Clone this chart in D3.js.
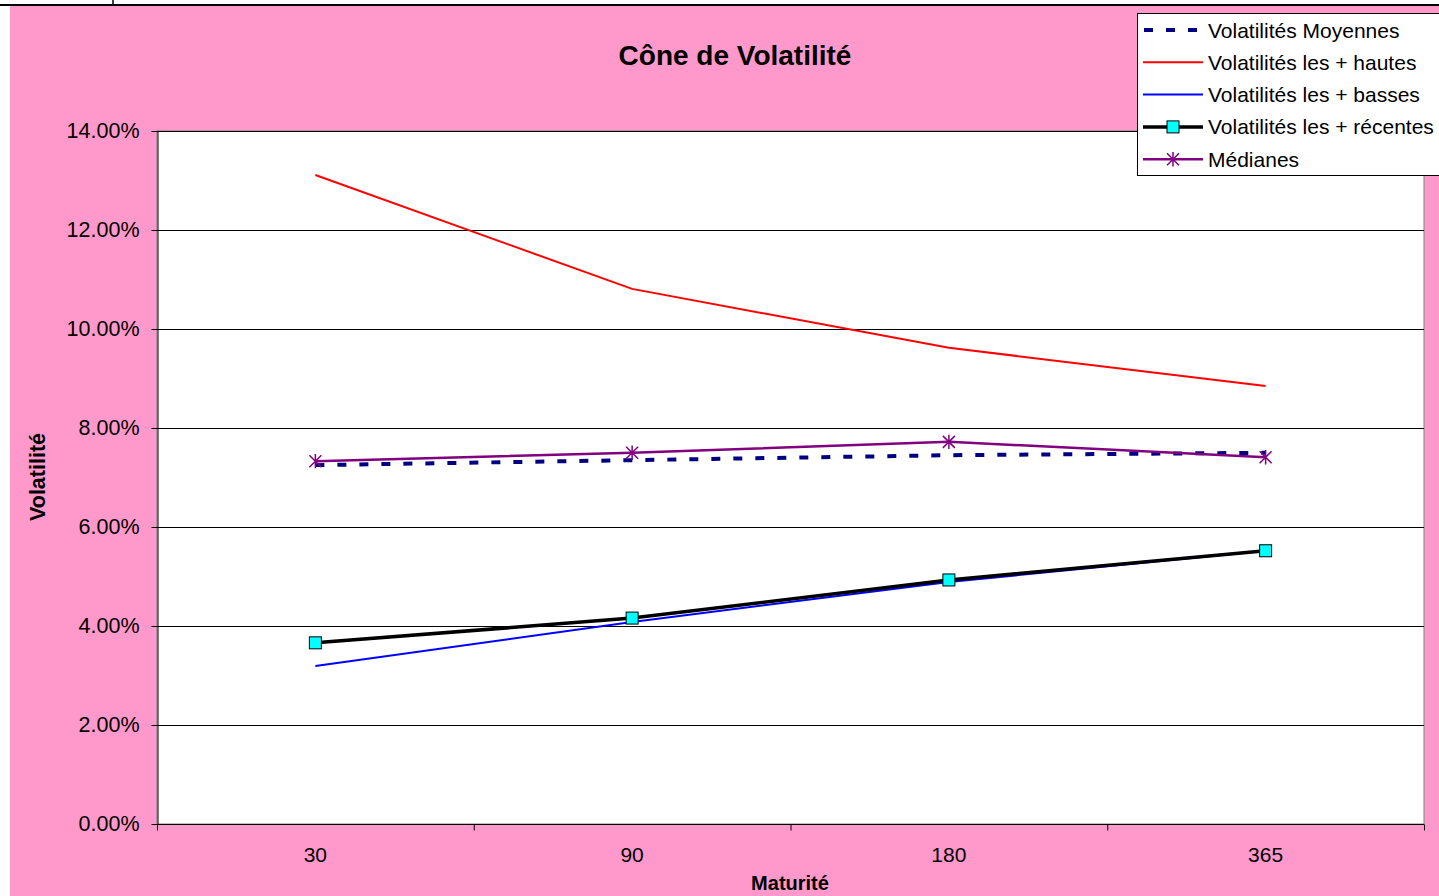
<!DOCTYPE html>
<html>
<head>
<meta charset="utf-8">
<script src="https://cdn.jsdelivr.net/npm/d3@7"></script>
<style>
  html, body { margin: 0; padding: 0; background: #ffffff; }
  svg { display: block; font-family: Arial, "Liberation Sans", sans-serif; }
</style>
</head>
<body>
<svg id="chart" width="1439" height="896"></svg>
<script>
// Maturités (jours) et séries de volatilité
const maturites = ["30", "90", "180", "365"];
const volMoyennes = [0.0725, 0.0735, 0.0745, 0.0750];
const volHautes   = [0.1311, 0.1081, 0.0962, 0.0885];
const volBasses   = [0.0319, 0.0408, 0.0489, 0.0552];
const volRecentes = [0.0366, 0.0416, 0.0493, 0.0552];
const medianes    = [0.0733, 0.0750, 0.0772, 0.0741];
const yTicks = [0, 0.02, 0.04, 0.06, 0.08, 0.10, 0.12, 0.14];

const svg = d3.select("#chart");
const W = 1439, H = 896;

// Fond de la feuille et zone du graphique
svg.append("rect").attr("width", W).attr("height", H).attr("fill", "#ffffff");
svg.append("rect").attr("x", 10).attr("y", 6).attr("width", W - 10).attr("height", H - 6).attr("fill", "#FF99CC");
svg.append("line").attr("x1", 0).attr("x2", W).attr("y1", 5).attr("y2", 5)
  .attr("stroke", "#000").attr("stroke-width", 2);
svg.append("line").attr("x1", 113).attr("x2", 113).attr("y1", 0).attr("y2", 5)
  .attr("stroke", "#000").attr("stroke-width", 1.5);

const plot = { left: 157, right: 1424, top: 131, bottom: 824 };

const x = d3.scaleBand().domain(maturites).range([plot.left, plot.right]).padding(0);
const y = d3.scaleLinear().domain([0, 0.14]).range([plot.bottom, plot.top]);
const cx = d => x(d) + x.bandwidth() / 2;

// Zone de traçage
svg.append("rect")
  .attr("x", plot.left).attr("y", plot.top)
  .attr("width", plot.right - plot.left).attr("height", plot.bottom - plot.top)
  .attr("fill", "#ffffff").attr("stroke", "#808080").attr("stroke-width", 1);

// Quadrillage horizontal
svg.append("g").selectAll("line").data(yTicks.filter(v => v > 0)).join("line")
  .attr("x1", plot.left).attr("x2", plot.right)
  .attr("y1", d => Math.round(y(d)) + 0.5).attr("y2", d => Math.round(y(d)) + 0.5)
  .attr("stroke", "#000").attr("stroke-width", 1);

// Axe des ordonnées
const yAxis = svg.append("g").attr("transform", `translate(${plot.left + 0.5},0)`)
  .call(d3.axisLeft(y).tickValues(yTicks).tickFormat(d => (d * 100).toFixed(2) + "%")
    .tickSize(6).tickSizeOuter(0).tickPadding(12));
yAxis.select(".domain").attr("stroke", "#000");
yAxis.selectAll(".tick line").attr("stroke", "#000");
yAxis.selectAll(".tick text").attr("font-size", 21.5).attr("fill", "#000")
  .attr("font-family", "Arial, 'Liberation Sans', sans-serif");

// Axe des abscisses (graduations entre les catégories)
const xAxisG = svg.append("g").attr("transform", `translate(0,${plot.bottom + 0.5})`);
xAxisG.append("line").attr("x1", plot.left).attr("x2", plot.right).attr("stroke", "#000");
const borders = maturites.map(m => x(m)).concat([plot.right]);
xAxisG.selectAll("line.tk").data(borders).join("line").attr("class", "tk")
  .attr("x1", d => d + 0.5).attr("x2", d => d + 0.5).attr("y1", 0).attr("y2", 6).attr("stroke", "#000");
xAxisG.selectAll("text").data(maturites).join("text")
  .attr("x", d => cx(d)).attr("y", 37).attr("text-anchor", "middle")
  .attr("font-size", 21).attr("fill", "#000")
  .text(d => d);

// Titres
svg.append("text").attr("x", 735).attr("y", 65).attr("text-anchor", "middle")
  .attr("font-size", 28).attr("font-weight", "bold").text("Cône de Volatilité");
svg.append("text").attr("transform", "translate(45,477) rotate(-90)").attr("text-anchor", "middle")
  .attr("font-size", 21.5).attr("font-weight", "bold").text("Volatilité");
svg.append("text").attr("x", 790).attr("y", 890).attr("text-anchor", "middle")
  .attr("font-size", 20).attr("font-weight", "bold").text("Maturité");

const line = d3.line().x((d, i) => cx(maturites[i])).y(d => y(d));

// Séries
svg.append("path").datum(volHautes).attr("d", line).attr("fill", "none")
  .attr("stroke", "#FF0000").attr("stroke-width", 2);
svg.append("path").datum(volBasses).attr("d", line).attr("fill", "none")
  .attr("stroke", "#0000FF").attr("stroke-width", 2);
svg.append("path").datum(volMoyennes).attr("d", line).attr("fill", "none")
  .attr("stroke", "#000080").attr("stroke-width", 4).attr("stroke-dasharray", "9,13");
svg.append("path").datum(medianes).attr("d", line).attr("fill", "none")
  .attr("stroke", "#800080").attr("stroke-width", 2.5);
svg.append("path").datum(volRecentes).attr("d", line).attr("fill", "none")
  .attr("stroke", "#000").attr("stroke-width", 3.5);

// Marqueurs
function star(g, px, py, s) {
  g.append("path")
    .attr("d", `M${px - s},${py - s}L${px + s},${py + s}M${px - s},${py + s}L${px + s},${py - s}M${px},${py - s * 1.2}L${px},${py + s * 1.2}`)
    .attr("stroke", "#800080").attr("stroke-width", 1.5).attr("fill", "none");
}
const starG = svg.append("g");
medianes.forEach((v, i) => star(starG, cx(maturites[i]), y(v), 6));
svg.append("g").selectAll("rect").data(volRecentes).join("rect")
  .attr("x", (d, i) => cx(maturites[i]) - 6).attr("y", d => y(d) - 6)
  .attr("width", 12).attr("height", 12)
  .attr("fill", "#00FFFF").attr("stroke", "#000").attr("stroke-width", 1);

// Légende
const leg = svg.append("g");
leg.append("rect").attr("x", 1137.5).attr("y", 13.5).attr("width", 320).attr("height", 162)
  .attr("fill", "#fff").attr("stroke", "#000").attr("stroke-width", 1);
const legItems = [
  { label: "Volatilités Moyennes", color: "#000080", w: 4, dash: "9,13" },
  { label: "Volatilités les + hautes", color: "#FF0000", w: 2 },
  { label: "Volatilités les + basses", color: "#0000FF", w: 2 },
  { label: "Volatilités les + récentes", color: "#000", w: 3.5, marker: "square" },
  { label: "Médianes", color: "#800080", w: 2.5, marker: "star" }
];
legItems.forEach((it, i) => {
  const ly = 30 + i * 32.3;
  leg.append("line").attr("x1", it.dash ? 1144 : 1143).attr("x2", 1203).attr("y1", ly).attr("y2", ly)
    .attr("stroke", it.color).attr("stroke-width", it.w).attr("stroke-dasharray", it.dash || null);
  if (it.marker === "square") {
    leg.append("rect").attr("x", 1167).attr("y", ly - 6).attr("width", 12).attr("height", 12)
      .attr("fill", "#00FFFF").attr("stroke", "#000");
  } else if (it.marker === "star") {
    star(leg, 1173, ly, 6);
  }
  leg.append("text").attr("x", 1208).attr("y", ly + 7.5).attr("font-size", 21).attr("fill", "#000").text(it.label);
});
</script>
</body>
</html>
